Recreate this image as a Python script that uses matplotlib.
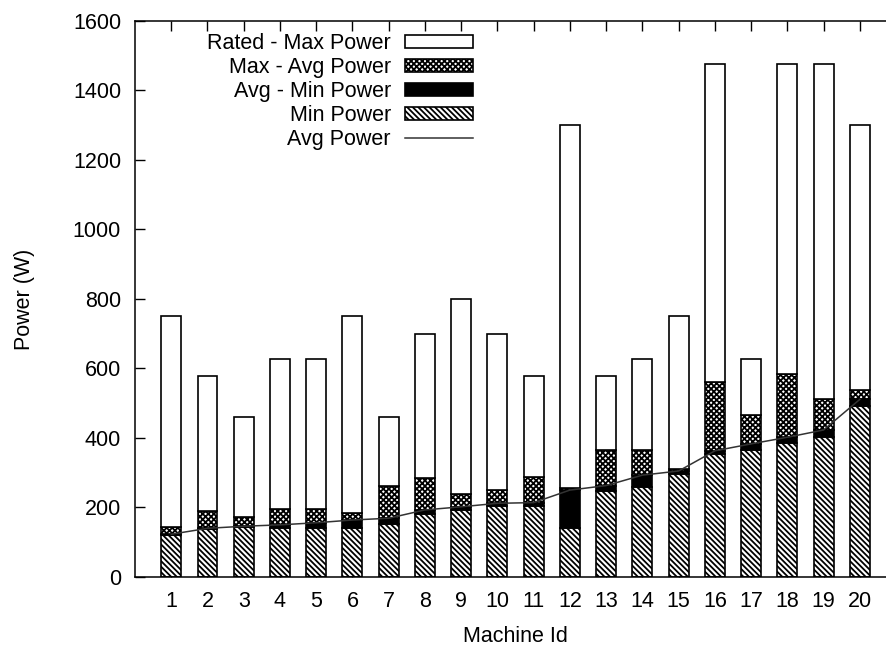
import numpy as np
import matplotlib
matplotlib.use('Agg')
import matplotlib.pyplot as plt

plt.rcParams['font.family'] = ['Liberation Sans', 'DejaVu Sans']
plt.rcParams['hatch.linewidth'] = 1.3

machines = np.arange(1, 21)
min_power = [120, 137, 143, 142, 142, 142, 152, 181, 193, 204,
             205, 140, 248, 260, 295, 354, 365, 387, 404, 492]
avg_power = [123, 140, 146, 150, 156, 164, 169, 193, 202, 212,
             214, 250, 263, 293, 305, 363, 383, 402, 423, 511]
max_power = [145, 190, 174, 195, 195, 185, 262, 284, 240, 250,
             289, 255, 365, 365, 312, 560, 467, 584, 511, 538]
rated_power = [750, 578, 460, 627, 627, 750, 460, 700, 800, 700,
               578, 1300, 578, 627, 750, 1475, 627, 1475, 1475, 1300]

min_power = np.array(min_power)
avg_power = np.array(avg_power)
max_power = np.array(max_power)
rated_power = np.array(rated_power)

fs = 15.5

fig = plt.figure(figsize=(8.87, 6.48), dpi=100)
ax = fig.add_axes([0.1522, 0.1096, 0.858, 0.858])
ax.set_axisbelow(True)

# stacked bars: min, avg-min, max-avg, rated-max
w = 0.55
kw = dict(width=w, edgecolor='black', linewidth=1.2)
b_min = ax.bar(machines, min_power, color='white', hatch='\\\\\\\\\\\\', **kw)
b_avg = ax.bar(machines, avg_power - min_power, bottom=min_power, color='black', **kw)
b_max = ax.bar(machines, max_power - avg_power, bottom=avg_power, color='white',
               hatch='xxxxxx', **kw)
b_rated = ax.bar(machines, rated_power - max_power, bottom=max_power, color='white', **kw)
line, = ax.plot(machines, avg_power, color='#333333', lw=1.1)

ax.set_xlim(0, 21)
ax.set_ylim(0, 1600)
ax.set_xticks(machines)
ax.set_yticks(np.arange(0, 1601, 200))
ax.tick_params(direction='in', length=7, width=1, top=True, right=True,
               labelsize=fs, pad=10)
for s in ax.spines.values():
    s.set_linewidth(1.1)

ax.set_xlabel('Machine Id', fontsize=fs)
ax.set_ylabel('Power (W)', fontsize=fs)
ax.xaxis.set_label_coords(0.5, -0.088)
ax.yaxis.set_label_coords(-0.131, 0.5)

ax.legend([b_rated, b_max, b_avg, b_min, line],
          ['Rated - Max Power', 'Max - Avg Power', 'Avg - Min Power', 'Min Power', 'Avg Power'],
          loc='upper right', bbox_to_anchor=(0.444, 0.979), frameon=False, markerfirst=False,
          fontsize=fs, handlelength=3.16, handleheight=0.56, labelspacing=0.14,
          handletextpad=0.65, borderpad=0, borderaxespad=0)

fig.savefig('out.png', dpi=100)
